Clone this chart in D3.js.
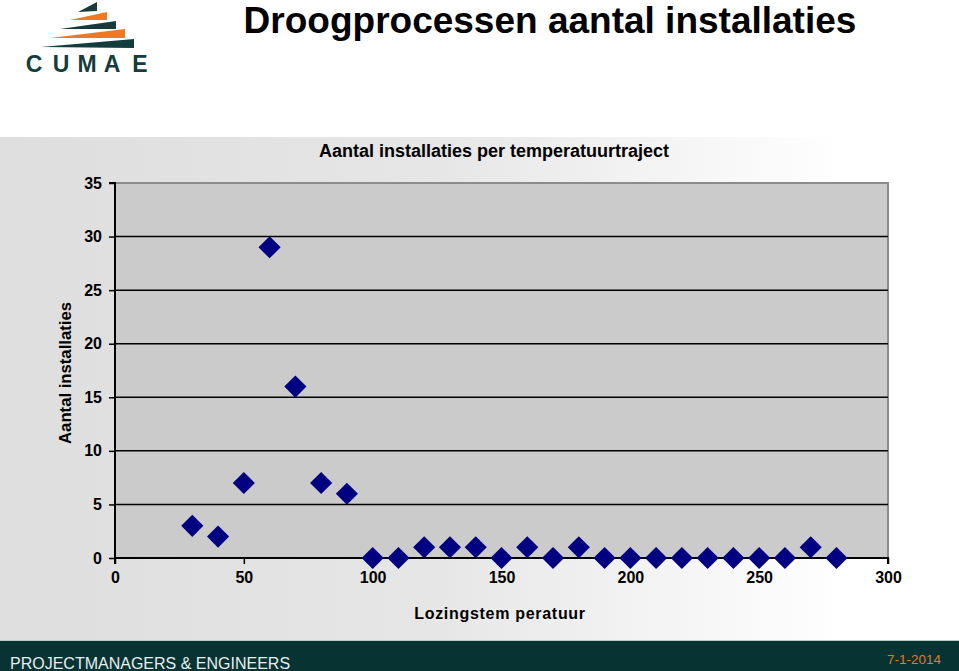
<!DOCTYPE html>
<html><head><meta charset="utf-8">
<script src="https://cdn.jsdelivr.net/npm/d3@7"></script>
<style>body{margin:0;padding:0;overflow:hidden;background:#fff}svg{display:block}</style>
</head><body>
<svg id="c" width="959" height="671"></svg>
<script>
const temps = [30,40,50,60,70,80,90,100,110,120,130,140,150,160,170,180,190,200,210,220,230,240,250,260,270,280];
const counts = [3,2,7,29,16,7,6,0,0,1,1,1,0,1,0,1,0,0,0,0,0,0,0,0,1,0];
const xTicks = [0,50,100,150,200,250,300];
const yTicks = [0,5,10,15,20,25,30,35];
const pageTitle = "Droogprocessen aantal installaties";
const chartTitle = "Aantal installaties per temperatuurtraject";
const xLabel = "Lozingstem peratuur";
const yLabel = "Aantal installaties";
const footerText = "PROJECTMANAGERS & ENGINEERS";
const dateText = "7-1-2014";

const svg = d3.select("#c");
const F = "Liberation Sans, Arial, sans-serif";
const defs = svg.append("defs");
const g1 = defs.append("linearGradient").attr("id","bg").attr("x1","0").attr("x2","1").attr("y1","0").attr("y2","0");
g1.append("stop").attr("offset","0").attr("stop-color","#dedede");
g1.append("stop").attr("offset","0.45").attr("stop-color","#e6e6e6");
g1.append("stop").attr("offset","0.88").attr("stop-color","#ffffff");
g1.append("stop").attr("offset","1").attr("stop-color","#ffffff");

svg.append("rect").attr("x",0).attr("y",137).attr("width",959).attr("height",504).attr("fill","url(#bg)");

svg.append("rect").attr("x",0).attr("y",640).attr("width",959).attr("height",1).attr("fill","#b8c8c8");
svg.append("rect").attr("x",0).attr("y",641).attr("width",959).attr("height",30).attr("fill","#073333");
svg.append("text").attr("x",10).attr("y",669).attr("font-family",F).attr("font-size",16).attr("fill","#e8eeee").text(footerText);
svg.append("text").attr("x",941).attr("y",664).attr("text-anchor","end").attr("font-family",F).attr("font-size",13.5).attr("fill","#e2782a").text(dateText);

const logo = svg.append("g");
const dark = "#143c3c", orange = "#f07820";
const wedges = [
  [[78,11],[97,2],[97,11],dark],
  [[70,19],[107,12],[107,20],orange],
  [[60,28],[116,21],[116,29],dark],
  [[50,37],[125,29],[125,38],orange],
  [[41,46],[134,39],[134,48],dark]
];
wedges.forEach(w=>{
  logo.append("path").attr("d",`M${w[0][0]},${w[0][1]+1}L${w[1][0]},${w[1][1]}L${w[2][0]},${w[2][1]}Z`).attr("fill",w[3]);
});
const letters = ["C","U","M","A","E"];
const lx = [34,61,87,112,140];
letters.forEach((l,i)=>{
  logo.append("text").attr("x",lx[i]).attr("y",72).attr("text-anchor","middle").attr("font-family",F).attr("font-weight","bold").attr("font-size",23).attr("fill",dark).text(l);
});

svg.append("text").attr("x",550).attr("y",33).attr("text-anchor","middle").attr("font-family",F).attr("font-weight","bold").attr("font-size",37).attr("fill","#000").text(pageTitle);

const x = d3.scaleLinear().domain([0,300]).range([115,888]);
const y = d3.scaleLinear().domain([0,35]).range([558,183]);

svg.append("rect").attr("x",x(0)).attr("y",y(35)).attr("width",x(300)-x(0)).attr("height",y(0)-y(35)).attr("fill","#cbcbcb");
svg.append("path").attr("d",`M${x(0)},${y(35)}H${x(300)}V${y(0)}`).attr("fill","none").attr("stroke","#8c8c8c").attr("stroke-width",2);
svg.append("g").selectAll("line").data(yTicks.filter(t=>t>0&&t<35)).join("line")
  .attr("x1",x(0)).attr("x2",x(300)).attr("y1",d=>y(d)).attr("y2",d=>y(d)).attr("stroke","#000").attr("stroke-width",1.5);

const yAxis = svg.append("g").attr("transform",`translate(${x(0)},0)`)
  .call(d3.axisLeft(y).tickValues(yTicks).tickSize(6).tickPadding(7));
const xAxis = svg.append("g").attr("transform",`translate(0,${y(0)})`)
  .call(d3.axisBottom(x).tickValues(xTicks).tickSize(6).tickPadding(8));
[yAxis,xAxis].forEach(a=>{
  a.attr("font-size",16).attr("font-family",F);
  a.select(".domain").attr("stroke","#000").attr("stroke-width",2);
  a.selectAll(".tick line").attr("stroke","#000").attr("stroke-width",1.5);
  a.selectAll("text").attr("font-family",F).attr("font-weight","bold").attr("font-size",16).attr("fill","#000");
});
yAxis.select(".domain").attr("d",`M-6,${y(35)}H0V${y(0)}`);
xAxis.select(".domain").attr("d",`M${x(0)},6V0H${x(300)}V6`);

const sym = d3.symbol().type(d3.symbolSquare).size(245);
svg.append("g").selectAll("path").data(temps.map((t,i)=>[t,counts[i]])).join("path")
  .attr("d",sym).attr("transform",d=>`translate(${x(d[0])},${y(d[1])}) rotate(45)`).attr("fill","#000080");

svg.append("text").attr("x",494).attr("y",157).attr("text-anchor","middle").attr("font-family",F).attr("font-weight","bold").attr("font-size",18).attr("fill","#000").text(chartTitle);
svg.append("text").attr("x",500).attr("y",619).attr("text-anchor","middle").attr("font-family",F).attr("font-weight","bold").attr("font-size",16).attr("letter-spacing",0.7).attr("fill","#000").text(xLabel);
svg.append("text").attr("transform","translate(71,373) rotate(-90)").attr("text-anchor","middle").attr("font-family",F).attr("font-weight","bold").attr("font-size",16.7).attr("fill","#000").text(yLabel);
</script>
</body></html>
